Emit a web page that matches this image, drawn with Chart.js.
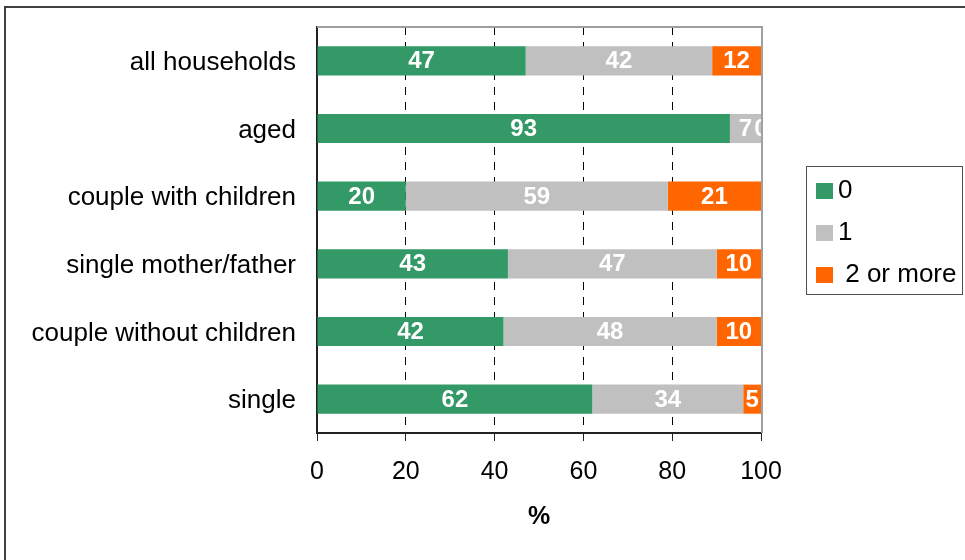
<!DOCTYPE html>
<html>
<head>
<meta charset="utf-8">
<script src="https://cdn.jsdelivr.net/npm/chart.js@4.4.0/dist/chart.umd.min.js"></script>
<style>
  body { margin: 0; background: #fff; }
  #wrap { position: relative; width: 965px; height: 560px; }
</style>
</head>
<body>
<div id="wrap"><canvas id="myChart" width="965" height="560"></canvas></div>
<script>
// household types, top to bottom
const categories = [
  "all households",
  "aged",
  "couple with children",
  "single mother/father",
  "couple without children",
  "single",
];
const seriesNames = ["0", "1", " 2 or more"];
const noneValues = [47, 93, 20, 43, 42, 62];
const oneValues = [42, 7, 59, 47, 48, 34];
const twoOrMoreValues = [12, 0, 21, 10, 10, 5];
const xTicks = [0, 20, 40, 60, 80, 100];
const axisTitle = "%";

const colors = ["#339966", "#c0c0c0", "#ff6600"];
const FONT = "'Liberation Sans', Arial, sans-serif";

// white value labels, centred on the visible part of each bar
const barLabels = {
  id: "barLabels",
  afterDatasetsDraw(chart) {
    const { ctx, chartArea: a } = chart;
    ctx.save();
    ctx.beginPath();
    ctx.rect(a.left, a.top, a.right - a.left, a.bottom - a.top);
    ctx.clip();
    ctx.font = "bold 24px " + FONT;
    ctx.fillStyle = "#fff";
    ctx.textAlign = "center";
    ctx.textBaseline = "middle";
    chart.data.datasets.forEach((ds, i) => {
      chart.getDatasetMeta(i).data.forEach((bar, j) => {
        const x0 = Math.max(Math.min(bar.base, bar.x), a.left);
        const x1 = Math.min(Math.max(bar.base, bar.x), a.right);
        ctx.fillText(String(ds.data[j]), (x0 + x1) / 2, bar.y + 1);
      });
    });
    ctx.restore();
  },
};

// grey top/right edges of the plot, outer frame and the boxed legend
const frame = {
  id: "frame",
  beforeDatasetsDraw(chart) {
    const { ctx, chartArea: a } = chart;
    ctx.save();
    ctx.strokeStyle = "#a0a0a0";
    ctx.lineWidth = 2;
    ctx.beginPath();
    ctx.moveTo(a.left, a.top);
    ctx.lineTo(a.right + 1, a.top);
    ctx.lineTo(a.right + 1, a.bottom);
    ctx.stroke();
    ctx.restore();
  },
  afterDraw(chart) {
    const { ctx } = chart;
    ctx.save();
    ctx.strokeStyle = "#404040";
    ctx.lineWidth = 2;
    ctx.beginPath();
    ctx.moveTo(965, 7);
    ctx.lineTo(5, 7);
    ctx.lineTo(5, 560);
    ctx.stroke();

    // legend
    ctx.strokeStyle = "#505050";
    ctx.lineWidth = 1;
    ctx.strokeRect(806.5, 166.5, 156, 128);
    ctx.font = "26px " + FONT;
    ctx.textAlign = "left";
    ctx.textBaseline = "middle";
    chart.data.datasets.forEach((ds, i) => {
      const cy = 191 + i * 42;
      ctx.fillStyle = ds.backgroundColor;
      ctx.fillRect(816, cy - 8, 17, 16);
      ctx.fillStyle = "#000";
      ctx.fillText(ds.label, 838, cy);
    });
    ctx.restore();
  },
};

const ctx = document.getElementById("myChart");

const myChart = new Chart(ctx, {
  type: "bar",
  data: {
    labels: categories,
    datasets: [
      { label: seriesNames[0], data: noneValues, backgroundColor: colors[0] },
      { label: seriesNames[1], data: oneValues, backgroundColor: colors[1] },
      { label: seriesNames[2], data: twoOrMoreValues, backgroundColor: colors[2] },
    ],
  },
  options: {
    indexAxis: "y",
    responsive: false,
    animation: false,
    layout: { padding: { left: 0, top: 27, right: 204, bottom: 0 } },
    datasets: {
      bar: { categoryPercentage: 1, barPercentage: 0.43, borderWidth: 0 },
    },
    plugins: {
      legend: { display: false },
      tooltip: { enabled: false },
    },
    scales: {
      x: {
        stacked: true,
        min: 0,
        max: 100,
        afterBuildTicks: (s) => {
          s.ticks = xTicks.map((v) => ({ value: v }));
        },
        afterFit: (s) => {
          s.height = 127;
        },
        grid: {
          color: (c) =>
            c.tick && (c.tick.value === 0 || c.tick.value === 100)
              ? "rgba(0,0,0,0)"
              : "#000",
          lineWidth: 1,
          tickColor: "#222",
          tickLength: 8,
          tickBorderDash: [],
        },
        border: { color: "#222", width: 2, dash: [8, 7] },
        ticks: {
          color: "#000",
          font: { family: FONT, size: 25 },
          padding: 16,
          maxRotation: 0,
        },
        title: {
          display: true,
          text: axisTitle,
          color: "#000",
          font: { family: FONT, size: 25, weight: "bold" },
          padding: { top: 0, bottom: 28 },
        },
      },
      y: {
        stacked: true,
        afterFit: (s) => {
          s.width = 317;
          s.paddingTop = 0;
          s.paddingBottom = 0;
        },
        grid: { display: false, drawTicks: false },
        border: { color: "#222", width: 2 },
        ticks: {
          color: "#000",
          font: { family: FONT, size: 26 },
          padding: 21,
          labelOffset: 2,
        },
      },
    },
  },
  plugins: [barLabels, frame],
});
</script>
</body>
</html>
